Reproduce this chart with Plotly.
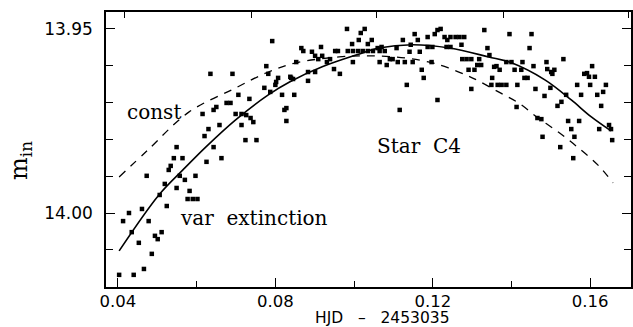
import plotly.graph_objects as go

# ---- observed points (HJD - 2453035, instrumental magnitude) ----
obs_x = [
    0.0403, 0.0440, 0.0466, 0.0486, 0.0453, 0.0435, 0.0413, 0.0428, 0.0461, 0.0478,
    0.0494, 0.0501, 0.0511, 0.0524, 0.0506, 0.0519, 0.0473, 0.0529, 0.0534, 0.0542,
    0.0564, 0.0549, 0.0549, 0.0557, 0.0570, 0.0582, 0.0577, 0.0590, 0.0602, 0.0597,
    0.0625, 0.0663, 0.0643, 0.0620, 0.0630, 0.0658, 0.0635, 0.0691, 0.0615, 0.0643,
    0.0650, 0.0676, 0.0686, 0.0699, 0.0714, 0.0706, 0.0714, 0.0724, 0.0752, 0.0726,
    0.0737, 0.0744, 0.0734, 0.0772, 0.0787, 0.0802, 0.0807, 0.0817, 0.0840, 0.0848,
    0.0828, 0.0823, 0.0828, 0.0777, 0.0782, 0.0792, 0.0853, 0.0866, 0.0871, 0.0893,
    0.0901, 0.0909, 0.0919, 0.0916, 0.0883, 0.0901, 0.0883, 0.0838, 0.0845, 0.0800,
    0.0931, 0.0939, 0.0952, 0.0959, 0.0984, 0.0997, 0.1010, 0.1022, 0.0997, 0.0949,
    0.0964, 0.0982, 0.1027, 0.1017, 0.0995, 0.1012, 0.1035, 0.1045, 0.1060, 0.1070,
    0.1078, 0.1065, 0.1108, 0.1124, 0.1144, 0.1154, 0.1162, 0.1187, 0.1199, 0.1187,
    0.1205, 0.1212, 0.1220, 0.1230, 0.1237, 0.1245, 0.1258, 0.1268, 0.1280, 0.1235,
    0.1245, 0.1273, 0.1331, 0.1339, 0.1344, 0.1035, 0.1048, 0.1065, 0.1083, 0.1091,
    0.1098, 0.1111, 0.1129, 0.1149, 0.1141, 0.1167, 0.1197, 0.1172, 0.1177, 0.1134,
    0.1212, 0.1116, 0.1275, 0.1286, 0.1298, 0.1318, 0.1313, 0.1323, 0.1291, 0.1306,
    0.1356, 0.1351, 0.1349, 0.1298, 0.1395, 0.1451, 0.1446, 0.1532, 0.1387, 0.1400,
    0.1428, 0.1456, 0.1489, 0.1362, 0.1370, 0.1408, 0.1425, 0.1433, 0.1441, 0.1491,
    0.1501, 0.1509, 0.1504, 0.1585, 0.1592, 0.1597, 0.1605, 0.1612, 0.1365, 0.1375,
    0.1387, 0.1415, 0.1461, 0.1484, 0.1499, 0.1539, 0.1567, 0.1600, 0.1640, 0.1633,
    0.1618, 0.1577, 0.1527, 0.1517, 0.1628, 0.1413, 0.1466, 0.1476, 0.1544, 0.1572,
    0.1552, 0.1623, 0.1648, 0.1653, 0.1479, 0.1560, 0.1656, 0.1524, 0.1557,
]
obs_y = [
    14.0168, 14.0168, 14.0152, 14.0111, 14.0081, 14.0052, 14.0022, 14.0000, 13.9989, 14.0022,
    14.0062, 14.0071, 14.0052, 13.9981, 13.9951, 13.9921, 13.9899, 13.9883, 13.9872, 13.9851,
    13.9851, 13.9821, 13.9932, 13.9899, 13.9910, 13.9940, 13.9962, 13.9962, 13.9962, 13.9899,
    13.9861, 13.9851, 13.9821, 13.9791, 13.9772, 13.9761, 13.9622, 13.9622, 13.9731, 13.9720,
    13.9712, 13.9701, 13.9701, 13.9731, 13.9731, 13.9679, 13.9761, 13.9802, 13.9802, 13.9734,
    13.9742, 13.9753, 13.9690, 13.9660, 13.9671, 13.9644, 13.9633, 13.9679, 13.9633, 13.9679,
    13.9715, 13.9720, 13.9750, 13.9601, 13.9622, 13.9533, 13.9590, 13.9552, 13.9560, 13.9562,
    13.9573, 13.9582, 13.9573, 13.9549, 13.9617, 13.9617, 13.9641, 13.9630, 13.9636, 13.9652,
    13.9590, 13.9582, 13.9560, 13.9560, 13.9560, 13.9560, 13.9560, 13.9560, 13.9590, 13.9609,
    13.9622, 13.9500, 13.9500, 13.9511, 13.9541, 13.9530, 13.9541, 13.9530, 13.9552, 13.9549,
    13.9560, 13.9560, 13.9552, 13.9530, 13.9543, 13.9514, 13.9530, 13.9522, 13.9549, 13.9549,
    13.9514, 13.9503, 13.9500, 13.9522, 13.9530, 13.9522, 13.9522, 13.9522, 13.9522, 13.9549,
    13.9549, 13.9543, 13.9503, 13.9552, 13.9571, 13.9560, 13.9560, 13.9590, 13.9598, 13.9582,
    13.9582, 13.9590, 13.9590, 13.9590, 13.9562, 13.9562, 13.9590, 13.9611, 13.9633, 13.9652,
    13.9693, 13.9720, 13.9582, 13.9582, 13.9582, 13.9582, 13.9598, 13.9598, 13.9611, 13.9611,
    13.9603, 13.9633, 13.9652, 13.9663, 13.9514, 13.9514, 13.9552, 13.9582, 13.9590, 13.9590,
    13.9590, 13.9601, 13.9590, 13.9601, 13.9611, 13.9611, 13.9611, 13.9633, 13.9633, 13.9609,
    13.9617, 13.9611, 13.9622, 13.9622, 13.9620, 13.9630, 13.9601, 13.9630, 13.9652, 13.9652,
    13.9652, 13.9652, 13.9663, 13.9682, 13.9660, 13.9679, 13.9652, 13.9652, 13.9652, 13.9671,
    13.9679, 13.9679, 13.9698, 13.9709, 13.9709, 13.9712, 13.9742, 13.9745, 13.9750, 13.9750,
    13.9772, 13.9772, 13.9761, 13.9772, 13.9793, 13.9793, 13.9802, 13.9821, 13.9851,
]

# ---- fitted curve: variable extinction (solid) ----
var_x = [0.0403, 0.0504, 0.0565, 0.0623, 0.0699, 0.0782, 0.0836, 0.0919, 0.1005,
         0.1063, 0.1147, 0.1243, 0.1342, 0.1400, 0.1486, 0.1552, 0.1603, 0.1653]
var_y = [14.0103, 13.9951, 13.9883, 13.9821, 13.9747, 13.9679, 13.9644, 13.9603, 13.9571,
         13.9552, 13.9543, 13.9552, 13.9576, 13.9592, 13.9639, 13.9693, 13.9739, 13.9777]

# ---- fitted curve: constant extinction (dashed) ----
const_x = [0.0403, 0.0476, 0.0580, 0.0694, 0.0782, 0.0853, 0.0962, 0.1038, 0.1132, 0.1198,
           0.1240, 0.1284, 0.1316, 0.1367, 0.1418, 0.1468, 0.1519, 0.1570, 0.1620, 0.1658]
const_y = [13.9902, 13.9829, 13.9726, 13.9663, 13.9617, 13.9592, 13.9576, 13.9573, 13.9579,
           13.9592, 13.9606, 13.9625, 13.9641, 13.9671, 13.9701, 13.9742, 13.9780, 13.9823,
           13.9870, 13.9918]

# ---- axes ----
x_range = [0.03696, 0.17038]
y_range = [14.0201, 13.9454]
x_ticks = [0.04, 0.08, 0.12, 0.16]
x_ticktext = ["0.04", "0.08", "0.12", "0.16"]
y_ticks = [13.95, 14.00]
y_ticktext = ["13.95", "14.00"]
top_ticks = [0.04177, 0.07392, 0.10582, 0.13797, 0.16962]

serif = "DejaVu Serif"

fig = go.Figure()
fig.add_trace(go.Scatter(x=obs_x, y=obs_y, mode="markers",
                         marker=dict(symbol="square", size=4.5, color="black"),
                         showlegend=False, hoverinfo="skip"))
fig.add_trace(go.Scatter(x=var_x, y=var_y, mode="lines", line_shape="spline",
                         line=dict(color="black", width=1.6),
                         showlegend=False, hoverinfo="skip"))
fig.add_trace(go.Scatter(x=const_x, y=const_y, mode="lines", line_shape="spline",
                         line=dict(color="black", width=1.3, dash="8px,7px"),
                         showlegend=False, hoverinfo="skip"))
# invisible trace for top axis
fig.add_trace(go.Scatter(x=[x_range[0]], y=[y_range[0]], xaxis="x2", mode="markers",
                         marker=dict(opacity=0), showlegend=False, hoverinfo="skip"))

fig.update_layout(
    width=633, height=327,
    margin=dict(l=106, r=0, t=12, b=40),
    paper_bgcolor="white", plot_bgcolor="white",
    xaxis=dict(range=x_range, tickvals=x_ticks, ticktext=x_ticktext,
               ticks="inside", ticklen=9, tickwidth=1.3, tickcolor="black",
               showline=True, linecolor="black", linewidth=1.5,
               showgrid=False, zeroline=False, ticklabelstandoff=-2,
               tickfont=dict(family="DejaVu Sans", size=16.5, color="black"),
               minor=dict(dtick=0.02, tick0=0.0, ticks="inside", ticklen=6,
                          tickwidth=1.2, tickcolor="black", showgrid=False)),
    xaxis2=dict(range=x_range, overlaying="x", side="top", tickvals=top_ticks,
                showticklabels=False, ticks="inside", ticklen=6, tickwidth=1.3,
                tickcolor="black", showline=True, linecolor="black", linewidth=2,
                showgrid=False, zeroline=False),
    yaxis=dict(range=y_range, tickvals=y_ticks, ticktext=y_ticktext,
               ticks="inside", ticklen=9, tickwidth=1.3, tickcolor="black",
               showline=True, linecolor="black", linewidth=1.5, mirror="ticks",
               showgrid=False, zeroline=False,
               tickfont=dict(family="DejaVu Sans", size=17, color="black"),
               ticklabelstandoff=8,
               minor=dict(dtick=0.01, tick0=13.95, ticks="inside", ticklen=7,
                          tickwidth=1.2, tickcolor="black", showgrid=False)),
    annotations=[
        dict(text="const", x=0.0418, y=13.9726, xref="x", yref="y",
             xanchor="left", yanchor="middle", showarrow=False,
             font=dict(family=serif, size=20, color="black")),
        dict(text="var\u00a0\u00a0extinction", x=0.0553, y=14.0013, xref="x", yref="y",
             xanchor="left", yanchor="middle", showarrow=False,
             font=dict(family=serif, size=20, color="black")),
        dict(text="Star\u00a0\u00a0C4", x=0.1052, y=13.9818, xref="x", yref="y",
             xanchor="left", yanchor="middle", showarrow=False,
             font=dict(family=serif, size=20, color="black")),
        dict(text="HJD\u00a0\u00a0\u00a0\u2013\u00a0\u00a0\u00a02453035", x=0.527, y=-0.114,
             xref="paper", yref="paper", xanchor="center", yanchor="middle",
             showarrow=False, font=dict(family="DejaVu Sans", size=15.5, color="black")),
        dict(text="m<sub>in</sub>", x=-0.163, y=0.46, xref="paper", yref="paper",
             xanchor="center", yanchor="middle", textangle=-90, showarrow=False,
             font=dict(family=serif, size=24, color="black")),
    ],
)

fig.write_html("out.html")
